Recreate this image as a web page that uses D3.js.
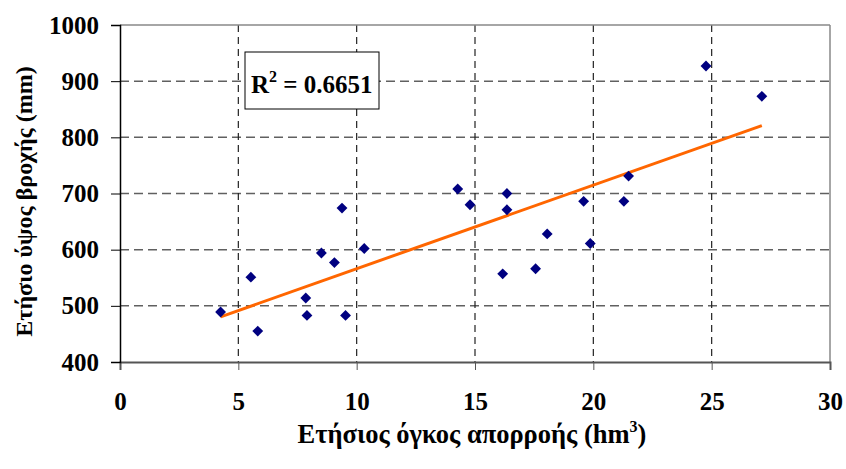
<!DOCTYPE html>
<html>
<head>
<meta charset="utf-8">
<script src="https://cdn.jsdelivr.net/npm/d3@7"></script>
<style>
  body { margin: 0; background: #fff; }
  text { font-family: "Liberation Serif", "Times New Roman", serif; font-weight: bold; fill: #000; }
</style>
</head>
<body>
<div id="chart"></div>
<script>
// data
var runoff = [4.25, 5.53, 5.82, 7.85, 7.9, 8.51, 9.06, 9.38, 9.53, 10.32,
              14.27, 14.79, 16.35, 16.35, 16.17, 17.56, 18.05, 19.59, 19.87, 21.29, 21.49,
              24.76, 27.12];
var rain = [489, 551, 455, 514, 483, 594, 577, 674, 483, 602,
            708, 680, 700, 671, 557, 566, 628, 686, 611, 686, 731,
            927, 873];
var xTicks = [0, 5, 10, 15, 20, 25, 30];
var yTicks = [400, 500, 600, 700, 800, 900, 1000];
var r2Label = "0.6651";

// set the dimensions and margins of the graph
var margin = {top: 25, right: 16, bottom: 107, left: 120},
    width = 846 - margin.left - margin.right,
    height = 469 - margin.top - margin.bottom;

var svg = d3.select("#chart")
  .append("svg")
    .attr("width", 846)
    .attr("height", 469)
  .append("g")
    .attr("transform", "translate(" + margin.left + "," + margin.top + ")");

var x = d3.scaleLinear().domain([0, 30]).range([0, width]);
var y = d3.scaleLinear().domain([400, 1000]).range([height, 0]);

// horizontal grid (gray dashes)
svg.selectAll(".hgrid")
  .data(yTicks.slice(1, -1))
  .enter()
  .append("line")
    .attr("x1", 0).attr("x2", width)
    .attr("y1", function(d) { return y(d); })
    .attr("y2", function(d) { return y(d); })
    .attr("stroke", "#606060")
    .attr("stroke-width", 1.5)
    .attr("stroke-dasharray", "9,5");

// vertical grid (black dashes)
svg.selectAll(".vgrid")
  .data(xTicks.slice(1, -1))
  .enter()
  .append("line")
    .attr("y1", 0).attr("y2", height)
    .attr("x1", function(d) { return x(d); })
    .attr("x2", function(d) { return x(d); })
    .attr("stroke", "#222")
    .attr("stroke-width", 1.2)
    .attr("stroke-dasharray", "7,5");

// plot frame top / right
svg.append("line").attr("x1", 0).attr("x2", width).attr("y1", 0).attr("y2", 0)
  .attr("stroke", "#888").attr("stroke-width", 1.5);
svg.append("line").attr("x1", width).attr("x2", width).attr("y1", 0).attr("y2", height)
  .attr("stroke", "#888").attr("stroke-width", 1.5);

// axes
var xAxis = svg.append("g")
  .attr("transform", "translate(0," + height + ")")
  .call(d3.axisBottom(x).tickValues(xTicks).tickFormat(d3.format("d")).tickSize(8).tickPadding(22));
xAxis.select(".domain").attr("stroke", "#555").attr("stroke-width", 2);
xAxis.selectAll(".tick line").attr("stroke", "#555");

var yAxis = svg.append("g")
  .call(d3.axisLeft(y).tickValues(yTicks).tickFormat(d3.format("d")).tickSize(9).tickPadding(12));
yAxis.select(".domain").attr("stroke", "#000").attr("stroke-width", 1.5);
yAxis.selectAll(".tick line").attr("stroke", "#000");

svg.selectAll(".tick text")
  .attr("font-family", "Liberation Serif, Times New Roman, serif")
  .attr("font-weight", "bold")
  .attr("font-size", 25)
  .attr("fill", "#000");

// trend line (least squares)
var mx = d3.mean(runoff), my = d3.mean(rain);
var sxy = d3.sum(runoff, function(v, i) { return (v - mx) * (rain[i] - my); });
var sxx = d3.sum(runoff, function(v) { return (v - mx) * (v - mx); });
var slope = sxy / sxx, icpt = my - slope * mx;
var ext = d3.extent(runoff);

svg.append("path")
  .datum(ext)
  .attr("fill", "none")
  .attr("stroke", "#ff6600")
  .attr("stroke-width", 3)
  .attr("d", d3.line()
      .x(function(d) { return x(d); })
      .y(function(d) { return y(icpt + slope * d); }));

// points
svg.selectAll(".pt")
  .data(runoff)
  .enter()
  .append("path")
    .attr("transform", function(d, i) { return "translate(" + x(d) + "," + y(rain[i]) + ")"; })
    .attr("d", d3.symbol().type(d3.symbolDiamond2).size(75))
    .attr("fill", "#000080");

// R² box
var box = svg.append("g").attr("transform", "translate(125,27)");
box.append("rect")
  .attr("width", 134).attr("height", 57)
  .attr("fill", "#fff").attr("stroke", "#000").attr("stroke-width", 1);
var rt = box.append("text").attr("x", 6).attr("y", 41).attr("font-size", 25);
rt.append("tspan").text("R");
rt.append("tspan").attr("font-size", 16).attr("dy", -11).text("2");
rt.append("tspan").attr("dy", 11).text(" = " + r2Label);

// axis titles
var xt = svg.append("text")
  .attr("x", width / 2 - 3)
  .attr("y", height + 81)
  .attr("text-anchor", "middle")
  .attr("font-size", 26.5);
xt.append("tspan").text("Ετήσιος όγκος απορροής (hm");
xt.append("tspan").attr("font-size", 16).attr("dy", -11).text("3");
xt.append("tspan").attr("dy", 11).text(")");

svg.append("text")
  .attr("transform", "translate(-88," + (height / 2 + 8) + ") rotate(-90)")
  .attr("text-anchor", "middle")
  .attr("font-size", 24)
  .text("Ετήσιο ύψος βροχής (mm)");
</script>
</body>
</html>
